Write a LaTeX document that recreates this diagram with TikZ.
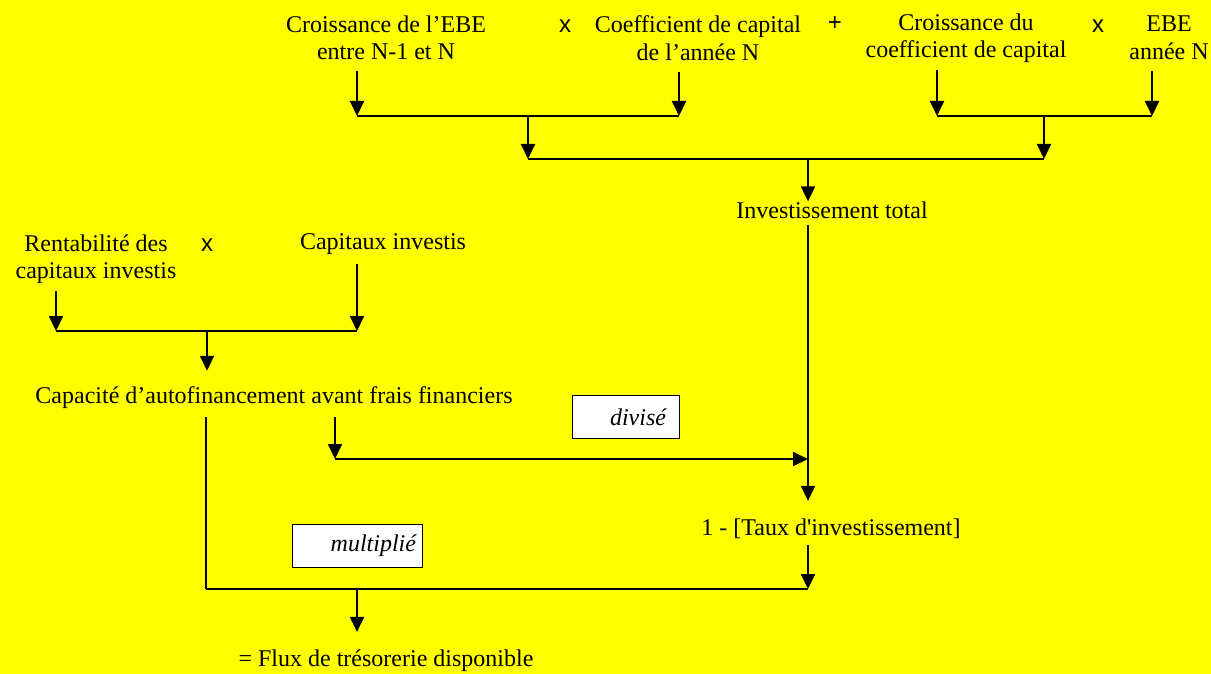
\documentclass[tikz,border=0pt]{standalone}
\usepackage{fontspec}
\setmainfont{Liberation Serif}
\newfontfamily\opfont{Liberation Sans}
\usetikzlibrary{arrows.meta}
\definecolor{fond}{RGB}{255,255,0}

\begin{document}
\begin{tikzpicture}[x=1pt, y=-1pt,
	every node/.style={inner sep=0pt, font=\fontsize{24}{27.5}\selectfont},
	txt/.style={align=center},
	op/.style={font=\opfont\fontsize{24}{27.5}\selectfont},
	opbox/.style={draw, fill=white, line width=1pt, minimum height=43pt, align=right, font=\itshape\fontsize{24}{27.5}\selectfont},
	arr/.style={line width=2pt, -{Triangle[width=14pt,length=15pt]}},
	link/.style={line width=1.4pt}]

	\fill[fond] (0,0) rectangle (1211,674);
	\useasboundingbox (0,0) rectangle (1211,674);

	\node[txt] (croiss) at (386,38) {Croissance de l’EBE\\entre N-1 et N};
	\node[op] (x1) at (565,26) {x};
	\node[txt] (coef) at (698,38) {Coefficient de capital\\de l’année N};
	\node[op] (plus) at (835,24) {+};
	\node[txt] (croisscoef) at (966,38) {Croissance du\\coefficient de capital};
	\node[op] (x2) at (1098,26) {x};
	\node[txt] (ebe) at (1169,38) {EBE\\année N};

	\node[txt] (inv) at (832,210) {Investissement total};
	\node[txt] (rent) at (96,259) {Rentabilité des\\capitaux investis};
	\node[op] (x3) at (207,245) {x};
	\node[txt] (capi) at (383,244) {Capitaux investis};
	\node[txt] (caf) at (274,398) {Capacité d’autofinancement avant frais financiers};
	\node[opbox, text width=81pt, inner xsep=13pt] (div) at (625.5,417) {divisé};
	\node[txt] (taux) at (831,529) {1 - [Taux d\textquotesingle investissement]};
	\node[opbox, text width=118pt, inner xsep=6pt] (mult) at (357,545.5) {multiplié};
	\node[txt] (flux) at (386,661) {= Flux de trésorerie disponible};

	\coordinate (A1) at (357,116);
	\coordinate (A2) at (679,116);
	\coordinate (A) at (528,116);
	\coordinate (B1) at (937,116);
	\coordinate (B2) at (1152,116);
	\coordinate (B) at (1044,116);
	\coordinate (C1) at (528,159);
	\coordinate (C2) at (1044,159);
	\coordinate (C) at (808,159);
	\coordinate (D1) at (56,331);
	\coordinate (D2) at (357,331);
	\coordinate (D) at (207,331);
	\coordinate (E) at (335,459);
	\coordinate (F) at (808,459);
	\coordinate (G1) at (206,589);
	\coordinate (G2) at (808,589);
	\coordinate (G) at (357,589);

	\draw[arr, shorten <=11pt] (croiss.south -| A1) -- (A1);
	\draw[arr, shorten <=11pt] (coef.south -| A2) -- (A2);
	\draw[link] (A1) -- (A2);
	\draw[arr] (A) -- (C1);
	\draw[arr, shorten <=7pt] (croisscoef.south -| B1) -- (B1);
	\draw[arr, shorten <=11pt] (ebe.south -| B2) -- (B2);
	\draw[link] (B1) -- (B2);
	\draw[arr] (B) -- (C2);
	\draw[link] (C1) -- (C2);
	\draw[arr] (C) -- (inv.north -| C);
	\draw[arr, shorten <=6pt, shorten >=18pt] (inv.south -| C) -- (taux.north -| C);

	\draw[arr, shorten <=7pt] (rent.south -| D1) -- (D1);
	\draw[arr, shorten <=9pt] (capi.south -| D2) -- (D2);
	\draw[link] (D1) -- (D2);
	\draw[arr, shorten >=16pt] (D) -- (caf.north -| D);
	\draw[arr, shorten <=8pt] (caf.south -| E) -- (E);
	\draw[arr] (E) -- (F);
	\draw[line width=2pt, shorten <=8pt] (caf.south -| G1) -- (G1);
	\draw[arr, shorten <=6pt] (taux.south -| G2) -- (G2);
	\draw[link] (G1) -- (G2);
	\draw[arr, shorten >=18pt] (G) -- (flux.north -| G);
\end{tikzpicture}
\end{document}
